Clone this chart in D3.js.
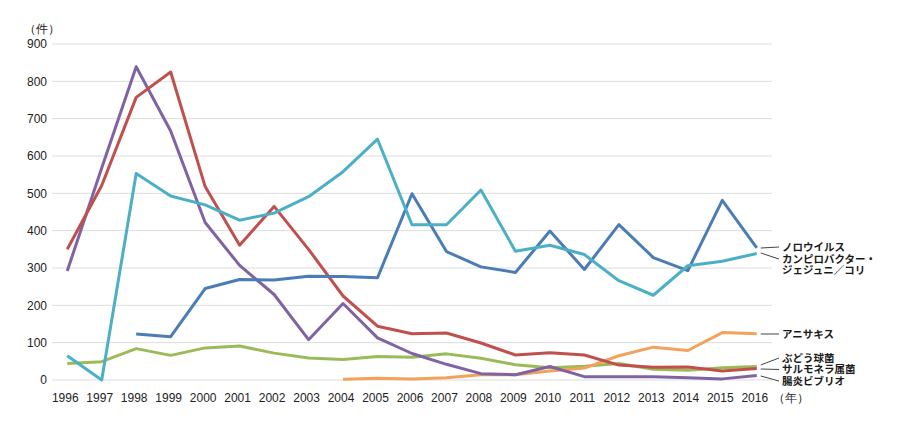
<!DOCTYPE html>
<html>
<head>
<meta charset="utf-8">
<script src="https://cdn.jsdelivr.net/npm/d3@7"></script>
<style>
  body { margin: 0; background: #fff; }
  svg { display: block; }
  .tick-label { font-family: "Liberation Sans", Arial, sans-serif; font-size: 12px; fill: #222; }
  .series-label { font-family: "Noto Sans CJK JP", sans-serif; font-size: 10.5px; font-weight: 700; fill: #1a1a1a; }
</style>
</head>
<body>
<svg id="svg" width="900" height="428"></svg>
<script>
// Chart size
const width = 900;
const height = 428;

// Categories (years) and y ticks
const years = d3.range(1996, 2017);
const yTicks = [0, 100, 200, 300, 400, 500, 600, 700, 800, 900];

// Series values (件), null = not recorded
const norovirus     = [null, null, 123, 116, 245, 269, 268, 278, 277, 274, 499, 344, 303, 288, 399, 296, 416, 328, 293, 481, 354];
const campylobacter = [65, 0, 553, 493, 469, 428, 447, 491, 558, 645, 416, 416, 509, 345, 361, 336, 266, 227, 306, 318, 339];
const anisakis      = [null, null, null, null, null, null, null, null, 2, 5, 3, 6, 14, 14, 24, 32, 65, 88, 79, 127, 124];
const staphylococcus = [44, 49, 84, 66, 86, 91, 72, 59, 55, 63, 61, 70, 58, 41, 33, 37, 44, 29, 26, 33, 36];
const salmonella    = [350, 521, 757, 825, 518, 361, 465, 350, 225, 144, 124, 126, 99, 67, 73, 67, 40, 34, 35, 24, 31];
const vibrio        = [292, 568, 839, 667, 422, 307, 229, 108, 205, 113, 71, 42, 17, 14, 36, 9, 9, 9, 6, 3, 12];

// Series names and colours
const seriesNames  = ["ノロウイルス", "カンピロバクター・\nジェジュニ／コリ", "アニサキス", "ぶどう球菌", "サルモネラ属菌", "腸炎ビブリオ"];
const seriesColors = ["#4a7db5", "#4bb0c6", "#f2a25a", "#9bbb59", "#c0504d", "#7f63a3"];
const seriesData   = [norovirus, campylobacter, anisakis, staphylococcus, salmonella, vibrio];

// Label placement at right: [label y, leader start y]
const labelY  = [247, 259, 334, 358, 369.5, 381];
const leaderY = [248, 253, 334, 365, 369, 376];

// Scales
const xScale = d3.scalePoint().domain(years).range([50, 774]).padding(0.5);
const yScale = d3.scaleLinear().domain([0, 900]).range([380, 44]);

const svg = d3.select("#svg");

// Gridlines
svg.append("g")
  .selectAll("line")
  .data(yTicks)
  .join("line")
  .attr("x1", 52).attr("x2", 772)
  .attr("y1", d => yScale(d)).attr("y2", d => yScale(d))
  .attr("stroke", "#dcdcdc")
  .attr("stroke-width", 1);

// Y axis labels
svg.append("g")
  .selectAll("text")
  .data(yTicks)
  .join("text")
  .attr("class", "tick-label")
  .attr("x", 47)
  .attr("y", d => yScale(d))
  .attr("dy", "0.35em")
  .attr("text-anchor", "end")
  .text(d => d);

svg.append("text")
  .attr("class", "tick-label")
  .attr("x", 24).attr("y", 29).attr("dy", "0.35em")
  .text("（件）");

// X axis labels
svg.append("g")
  .selectAll("text")
  .data(years)
  .join("text")
  .attr("class", "tick-label")
  .attr("x", d => xScale(d) - 2)
  .attr("y", 398)
  .attr("dy", "0.35em")
  .attr("text-anchor", "middle")
  .text(d => d);

svg.append("text")
  .attr("class", "tick-label")
  .attr("x", 773).attr("y", 398).attr("dy", "0.35em")
  .text("（年）");

// Line generator
const line = d3.line()
  .defined(d => d != null)
  .x((d, i) => xScale(years[i]))
  .y(d => yScale(d));

// Draw in back-to-front order
const drawOrder = [3, 2, 5, 4, 0, 1];
drawOrder.forEach(k => {
  svg.append("path")
    .datum(seriesData[k])
    .attr("fill", "none")
    .attr("stroke", seriesColors[k])
    .attr("stroke-width", 3)
    .attr("stroke-linejoin", "round")
    .attr("d", line);
});

// Leader lines and labels
const xEnd = xScale(2016);
seriesNames.forEach((name, k) => {
  svg.append("line")
    .attr("x1", xEnd + 4).attr("y1", leaderY[k])
    .attr("x2", 779).attr("y2", labelY[k])
    .attr("stroke", "#444")
    .attr("stroke-width", 1);

  const t = svg.append("text")
    .attr("class", "series-label")
    .attr("x", 782)
    .attr("y", labelY[k]);
  name.split("\n").forEach((s, j) => {
    t.append("tspan").attr("x", 782).attr("dy", j === 0 ? "0.38em" : 11).text(s);
  });
});
</script>
</body>
</html>
